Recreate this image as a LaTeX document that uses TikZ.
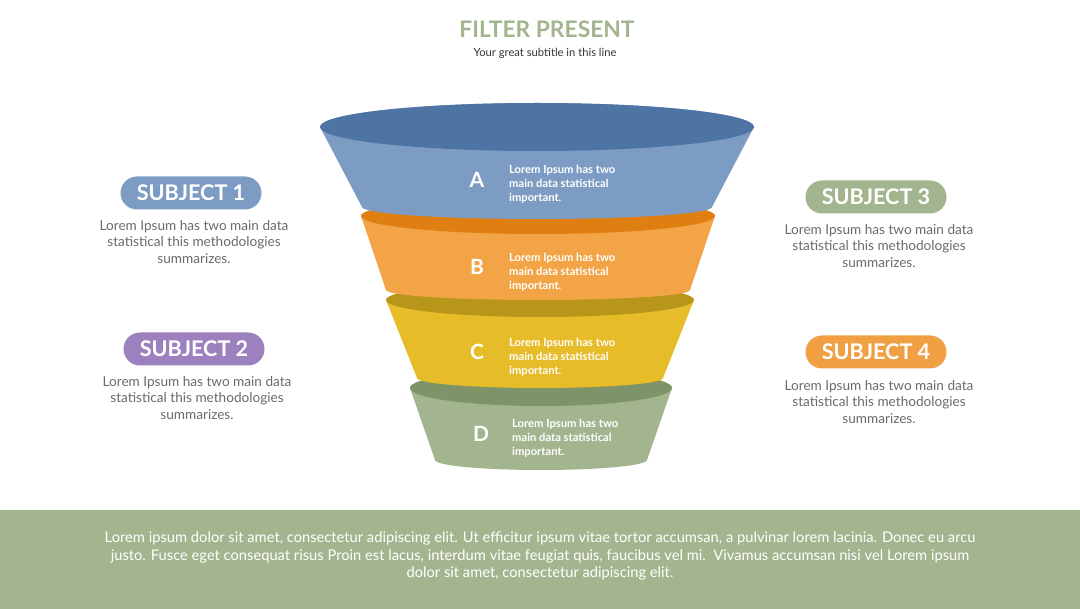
\documentclass[tikz,border=0pt]{standalone}
\usepackage{fontspec}
\setmainfont{Lato}
\definecolor{gband}{HTML}{A3B58F}
\definecolor{gtitle}{HTML}{A3B58F}
\definecolor{gtext}{HTML}{6B6B6B}
\definecolor{Abody}{HTML}{7D9CC4}
\definecolor{Atop}{HTML}{4E74A3}
\definecolor{Bbody}{HTML}{F2A446}
\definecolor{Btop}{HTML}{DF7F12}
\definecolor{Cbody}{HTML}{E6BC29}
\definecolor{Ctop}{HTML}{B8961A}
\definecolor{Dbody}{HTML}{A3B58F}
\definecolor{Dtop}{HTML}{7E9368}
\definecolor{pill1}{HTML}{7D9CC4}
\definecolor{pill2}{HTML}{9D81BE}
\definecolor{pill3}{HTML}{A3B58F}
\definecolor{pill4}{HTML}{F0A043}
\newcommand{\funnellayer}[9]{%
  \fill[#8] ({#1-#3},{-#2}) -- ({#1-#6},{-#5})
    arc[start angle=180,end angle=360,x radius=#6,y radius=#7]
    -- ({#1+#3},{-#2})
    arc[start angle=0,end angle=180,x radius=#3,y radius=#4] -- cycle;
  \fill[#9] (#1,{-#2}) ellipse[x radius=#3,y radius=#4];
}
\tikzset{
  pill/.style={fill=#1,rounded corners=16.5pt,minimum width=141pt,minimum height=33pt,
    inner sep=0pt,text=white,font=\fontsize{21.6}{21.6}\selectfont\bfseries},
  desc/.style={text=gtext,align=center,inner sep=0pt,font=\fontsize{13.6}{16.3}\selectfont},
  letter/.style={text=white,inner sep=0pt,font=\fontsize{21}{21}\selectfont\bfseries},
  ftext/.style={text=white,align=left,anchor=west,inner sep=0pt,font=\fontsize{11.2}{14}\selectfont\bfseries},
}
\begin{document}
\begin{tikzpicture}[x=1pt,y=1pt]
\useasboundingbox[fill=white] (0,0) rectangle (1080,-609);
% bottom band
\fill[gband] (0,-510) rectangle (1080,-609);
% funnel layers, bottom first
\funnellayer{541}{388}{131}{18}{460}{106}{10}{Dbody}{Dtop}
\funnellayer{540}{300}{154}{17}{378}{123}{10}{Cbody}{Ctop}
\funnellayer{538}{216}{177}{18}{290}{152}{10}{Bbody}{Btop}
\funnellayer{537}{127}{217}{24}{207}{175}{12}{Abody}{Atop}
% title
\node[text=gtitle,inner sep=0pt,font=\fontsize{22.8}{22.8}\selectfont\bfseries] (title) at (547,-29) {FILTER PRESENT};
\node[text=black!80,inner sep=0pt,font=\fontsize{11.2}{11.2}\selectfont] (subtitle) at (545,-53) {Your great subtitle in this line};
% funnel labels
\node[letter] (la) at (477,-180) {A};
\node[letter] (lb) at (477,-267) {B};
\node[letter] (lc) at (477,-352) {C};
\node[letter] (ld) at (481,-434) {D};
\node[ftext] (ta) at (509,-184) {Lorem Ipsum has two\\main data statistical\\important.};
\node[ftext] (tb) at (509,-272) {Lorem Ipsum has two\\main data statistical\\important.};
\node[ftext] (tc) at (509,-357) {Lorem Ipsum has two\\main data statistical\\important.};
\node[ftext] (td) at (512,-438) {Lorem Ipsum has two\\main data statistical\\important.};
% subjects
\node[pill=pill1] (s1) at (191,-193) {SUBJECT 1};
\node[desc] (d1) at (194,-242) {Lorem Ipsum has two main data\\statistical this methodologies\\summarizes.};
\node[pill=pill2] (s2) at (194,-349) {SUBJECT 2};
\node[desc] (d2) at (197,-398) {Lorem Ipsum has two main data\\statistical this methodologies\\summarizes.};
\node[pill=pill3] (s3) at (876,-197) {SUBJECT 3};
\node[desc] (d3) at (879,-246) {Lorem Ipsum has two main data\\statistical this methodologies\\summarizes.};
\node[pill=pill4] (s4) at (876,-352) {SUBJECT 4};
\node[desc] (d4) at (879,-402) {Lorem Ipsum has two main data\\statistical this methodologies\\summarizes.};
% bottom text
\node[text=white,align=center,inner sep=0pt,font=\fontsize{14.7}{17.5}\selectfont] (bottom) at (540,-556)
 {Lorem ipsum dolor sit amet, consectetur adipiscing elit. Ut efficitur ipsum vitae tortor accumsan, a pulvinar lorem lacinia. Donec eu arcu\\
  justo. Fusce eget consequat risus Proin est lacus, interdum vitae feugiat quis, faucibus vel mi.\ \ Vivamus accumsan nisi vel Lorem ipsum\\
  dolor sit amet, consectetur adipiscing elit.};
\end{tikzpicture}
\end{document}
